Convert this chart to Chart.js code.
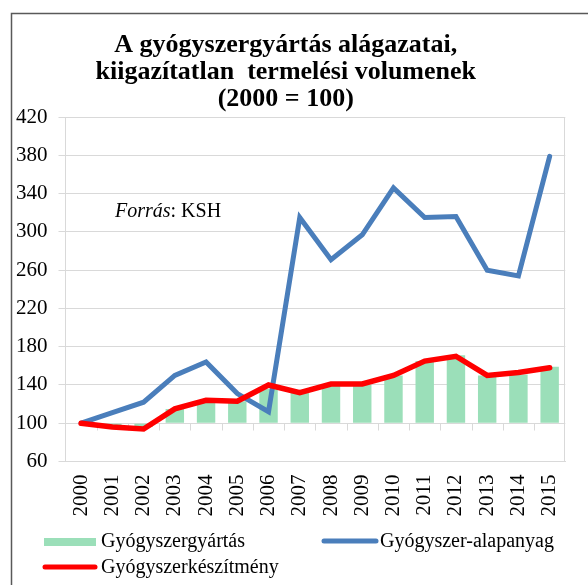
<!DOCTYPE html>
<html>
<head>
<meta charset="utf-8">
<script src="https://cdn.jsdelivr.net/npm/chart.js@4.4.1/dist/chart.umd.min.js"></script>
<style>
  html, body { margin: 0; padding: 0; background: #fff; }
  #wrap { width: 588px; height: 585px; }
</style>
</head>
<body>
<div id="wrap"><canvas id="chart" width="588" height="585"></canvas></div>
<script>
// Categories
const years = ['2000', '2001', '2002', '2003', '2004', '2005', '2006', '2007',
  '2008', '2009', '2010', '2011', '2012', '2013', '2014', '2015'];

// Series (2000 = 100)
const gyartas = [100, 97, 96, 115, 124, 123, 136, 133, 140, 140, 150, 165, 171, 150, 151, 159];
const alapanyag = [100, 111, 122, 150, 164, 131, 112, 315, 271, 297, 346, 315, 316, 260, 254, 379];
const keszitmeny = [100, 96, 94, 115, 124, 123, 140, 132, 141, 141, 150, 165, 170, 150, 153, 158];

// Series names
const seriesNames = ['Gyógyszergyártás', 'Gyógyszer-alapanyag', 'Gyógyszerkészítmény'];

// Value axis
const yMin = 60;
const yMax = 420;
const yStep = 40;

const serif = '"Liberation Serif", "Times New Roman", serif';
Chart.defaults.font.family = serif;
Chart.defaults.color = '#000';

const gridColor = '#d9d9d9';
const barColor = '#9bdfb9';
const blueColor = '#4a7ebb';
const redColor = '#ff0000';

// White background and the outer frame
const framePlugin = {
  id: 'frame',
  beforeDraw(chart) {
    const ctx = chart.ctx;
    ctx.save();
    ctx.fillStyle = '#fff';
    ctx.fillRect(0, 0, chart.width, chart.height);
    ctx.strokeStyle = '#595959';
    ctx.lineWidth = 1.5;
    ctx.strokeRect(11.5, 13.5, chart.width + 20, chart.height + 20);
    ctx.restore();
  }
};

// Title sits a little left of centre in the original
const titleShift = {
  id: 'titleShift',
  afterLayout(chart) {
    if (chart.titleBlock) {
      chart.titleBlock.left -= 12;
      chart.titleBlock.right -= 12;
    }
  }
};

// Plot border and the category ticks on the 100 line
const plotExtras = {
  id: 'plotExtras',
  beforeDatasetsDraw(chart) {
    const { ctx, chartArea, scales: { x, y } } = chart;
    const yPos = Math.round(y.getPixelForValue(100)) + 0.5;
    const step = x.width / years.length;
    ctx.save();
    ctx.strokeStyle = gridColor;
    ctx.lineWidth = 1;
    ctx.beginPath();
    for (let i = 1; i < years.length; i++) {
      const px = Math.round(x.left + i * step) + 0.5;
      ctx.moveTo(px, yPos);
      ctx.lineTo(px, yPos + 7);
    }
    ctx.moveTo(Math.round(chartArea.right) - 0.5, chartArea.top);
    ctx.lineTo(Math.round(chartArea.right) - 0.5, chartArea.bottom);
    ctx.stroke();
    ctx.restore();
  }
};

// Source note and the legend laid out in columns like the original
const notesAndLegend = {
  id: 'notesAndLegend',
  afterDraw(chart) {
    const ctx = chart.ctx;
    ctx.save();
    ctx.fillStyle = '#000';
    ctx.textBaseline = 'middle';
    ctx.textAlign = 'left';

    ctx.font = 'italic 20px ' + serif;
    ctx.fillText('Forrás', 115, 212);
    const w = ctx.measureText('Forrás').width;
    ctx.font = '20px ' + serif;
    ctx.fillText(': KSH', 115 + w, 212);

    // legend
    const ds = chart.data.datasets;
    ctx.fillStyle = ds[0].backgroundColor;
    ctx.fillRect(44, 538, 52, 8);

    ctx.lineCap = 'round';
    ctx.lineWidth = 5;
    ctx.strokeStyle = ds[1].borderColor;
    ctx.beginPath();
    ctx.moveTo(324, 541);
    ctx.lineTo(376, 541);
    ctx.stroke();

    ctx.strokeStyle = ds[2].borderColor;
    ctx.beginPath();
    ctx.moveTo(45, 567);
    ctx.lineTo(95, 567);
    ctx.stroke();

    ctx.fillStyle = '#000';
    ctx.font = '20px ' + serif;
    ctx.fillText(ds[0].label, 101, 542);
    ctx.fillText(ds[1].label, 380, 542);
    ctx.fillText(ds[2].label, 101, 568);
    ctx.restore();
  }
};

new Chart(document.getElementById('chart'), {
  type: 'bar',
  data: {
    labels: years,
    datasets: [
      {
        label: seriesNames[0],
        data: gyartas,
        base: 100,
        backgroundColor: barColor,
        barPercentage: 0.59,
        categoryPercentage: 1,
        order: 3
      },
      {
        type: 'line',
        label: seriesNames[1],
        data: alapanyag,
        borderColor: blueColor,
        backgroundColor: blueColor,
        borderWidth: 5,
        borderCapStyle: 'round',
        pointRadius: 0,
        tension: 0,
        fill: false,
        order: 2
      },
      {
        type: 'line',
        label: seriesNames[2],
        data: keszitmeny,
        borderColor: redColor,
        backgroundColor: redColor,
        borderWidth: 5.5,
        borderCapStyle: 'round',
        pointRadius: 0,
        tension: 0,
        fill: false,
        order: 1
      }
    ]
  },
  options: {
    responsive: false,
    animation: false,
    layout: { padding: { left: 12, right: 4.5, top: 14, bottom: 58.5 } },
    plugins: {
      legend: { display: false },
      tooltip: { enabled: false },
      title: {
        display: true,
        text: ['A gyógyszergyártás alágazatai,', 'kiigazítatlan  termelési volumenek', '(2000 = 100)'],
        color: '#000',
        font: { family: serif, size: 26, weight: 'bold', lineHeight: 1.04 },
        padding: { top: 18, bottom: 4 }
      }
    },
    scales: {
      x: {
        grid: { display: false, drawTicks: false },
        border: { display: true, color: gridColor },
        ticks: {
          font: { size: 21 },
          color: '#000',
          minRotation: 90,
          maxRotation: 90,
          autoSkip: false,
          padding: 13
        },
        afterFit(scale) { scale.height = 65; }
      },
      y: {
        min: yMin,
        max: yMax,
        grid: { color: gridColor, tickLength: 7, tickColor: gridColor },
        border: { display: true, color: gridColor },
        ticks: {
          stepSize: yStep,
          font: { size: 21 },
          color: '#000',
          padding: 11
        },
        afterFit(scale) { scale.width = 53.5; }
      }
    }
  },
  plugins: [framePlugin, titleShift, plotExtras, notesAndLegend]
});
</script>
</body>
</html>
